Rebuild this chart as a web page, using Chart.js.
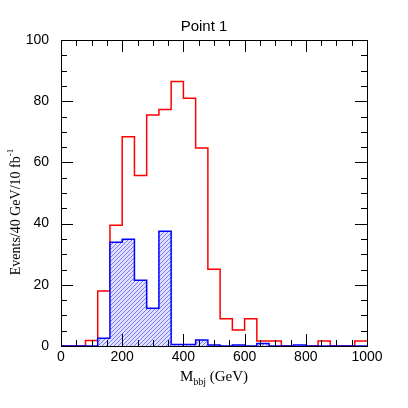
<!DOCTYPE html>
<html lang="en">
<head>
    <meta charset="UTF-8">
    <title>Point 1</title>
    <script src="https://cdn.jsdelivr.net/npm/chart.js"></script>
    <style>
        body { margin: 0; background: #ffffff; }
        .chart-container { width: 408px; height: 408px; position: relative; }
    </style>
</head>
<body>
    <div class="chart-container">
        <canvas id="chart"></canvas>
    </div>

    <script>
        // bin low edges (GeV), 40 GeV wide
        const binLow = [0, 40, 80, 120, 160, 200, 240, 280, 320, 360, 400, 440, 480,
                        520, 560, 600, 640, 680, 720, 760, 800, 840, 880, 920, 960];
        const binHighEnd = 1000;
        const redCounts = [0, 0, 1.8, 18.0, 39.5, 68.4, 55.7, 75.5, 77.3, 86.4, 81.0, 64.7, 25.1,
                           8.9, 5.2, 8.9, 1.6, 1.6, 0, 0, 0, 1.6, 0, 0, 1.6];
        const blueCounts = [0, 0, 0, 2.5, 33.9, 34.9, 21.5, 12.3, 37.5, 0.5, 0.5, 2.0, 0.3,
                            0, 0.3, 0, 0.8, 0, 0, 0.3, 0, 0, 0, 0, 0];
        const xTickLabels = [0, 200, 400, 600, 800, 1000];
        const yTickLabels = [0, 20, 40, 60, 80, 100];

        // one point per bin low edge, plus the closing edge; 'before' holds each value to the next edge
        function histPoints(counts) {
            const pts = binLow.map((x, i) => ({ x: x, y: counts[i] }));
            pts.push({ x: binHighEnd, y: counts[counts.length - 1] });
            return pts;
        }

        function makeHatch() {
            const c = document.createElement('canvas');
            c.width = 4; c.height = 4;
            const g = c.getContext('2d');
            g.fillStyle = 'rgba(225,225,255,1)';
            g.fillRect(0, 0, 4, 4);
            g.strokeStyle = 'rgba(80,80,255,0.7)';
            g.lineWidth = 1;
            g.beginPath();
            g.moveTo(0, 4); g.lineTo(4, 0);
            g.moveTo(-1, 1); g.lineTo(1, -1);
            g.moveTo(3, 5); g.lineTo(5, 3);
            g.stroke();
            return g.createPattern(c, 'repeat');
        }

        // inner ticks on all sides, frame, titles
        const decorations = {
            id: 'decorations',
            afterDraw(chart) {
                const ctx = chart.ctx;
                const a = chart.chartArea;
                const xs = chart.scales.x, ys = chart.scales.y;
                ctx.save();
                ctx.strokeStyle = '#000';
                ctx.lineWidth = 1;
                ctx.beginPath();
                for (let v = 0; v <= 1000; v += 50) {
                    const px = Math.round(xs.getPixelForValue(v)) + 0.5;
                    const len = v % 200 === 0 ? 12 : 6;
                    ctx.moveTo(px, a.bottom); ctx.lineTo(px, a.bottom - len);
                    ctx.moveTo(px, a.top); ctx.lineTo(px, a.top + len);
                }
                for (let v = 0; v <= 100; v += 5) {
                    const py = Math.round(ys.getPixelForValue(v)) + 0.5;
                    const len = v % 20 === 0 ? 12 : 6;
                    ctx.moveTo(a.left, py); ctx.lineTo(a.left + len, py);
                    ctx.moveTo(a.right, py); ctx.lineTo(a.right - len, py);
                }
                ctx.stroke();
                ctx.strokeRect(Math.round(a.left) + 0.5, Math.round(a.top) + 0.5,
                               Math.round(a.right - a.left), Math.round(a.bottom - a.top));

                // title
                ctx.fillStyle = '#000';
                ctx.font = '15px "Liberation Sans", Arial, sans-serif';
                ctx.textAlign = 'center';
                ctx.textBaseline = 'alphabetic';
                ctx.fillText('Point 1', 204, 31);

                // x title with subscript
                const cx = (a.left + a.right) / 2;
                const parts = [
                    { t: 'M', f: '15px "Liberation Serif", serif', dy: 0 },
                    { t: 'bbj', f: '10px "Liberation Serif", serif', dy: 4 },
                    { t: ' (GeV)', f: '15px "Liberation Serif", serif', dy: 0 }
                ];
                drawParts(ctx, parts, cx, 381);

                // y title with superscript
                ctx.save();
                ctx.translate(20, 212);
                ctx.rotate(-Math.PI / 2);
                const yparts = [
                    { t: 'Events/40 GeV/10 fb', f: '14px "Liberation Serif", serif', dy: 0 },
                    { t: '-1', f: '9px "Liberation Serif", serif', dy: -7 }
                ];
                drawParts(ctx, yparts, 0, 0);
                ctx.restore();
                ctx.restore();
            }
        };

        function drawParts(ctx, parts, cx, baseY) {
            let total = 0;
            parts.forEach(p => { ctx.font = p.f; p.w = ctx.measureText(p.t).width; total += p.w; });
            let x = cx - total / 2;
            ctx.textAlign = 'left';
            parts.forEach(p => {
                ctx.font = p.f;
                ctx.fillText(p.t, x, baseY + p.dy);
                x += p.w;
            });
        }

        const tickFont = { family: '"Liberation Sans", Arial, sans-serif', size: 14 };

        new Chart('chart', {
            type: 'line',
            data: {
                datasets: [
                    {
                        label: 'blue',
                        data: histPoints(blueCounts),
                        stepped: 'before',
                        borderColor: '#0000ff',
                        borderWidth: 1.5,
                        backgroundColor: makeHatch(),
                        fill: 'origin',
                        pointRadius: 0,
                        order: 1
                    },
                    {
                        label: 'red',
                        data: histPoints(redCounts),
                        stepped: 'before',
                        borderColor: '#ff0000',
                        borderWidth: 1.5,
                        fill: false,
                        pointRadius: 0,
                        order: 2
                    }
                ]
            },
            options: {
                responsive: true,
                maintainAspectRatio: false,
                animation: false,
                layout: { padding: { top: 40, right: 41, left: 0, bottom: 0 } },
                plugins: {
                    legend: { display: false },
                    tooltip: { enabled: false },
                    title: { display: false }
                },
                scales: {
                    x: {
                        type: 'linear',
                        min: 0,
                        max: 1000,
                        grid: { display: false, drawTicks: false },
                        border: { display: false },
                        afterFit: s => { s.height = 62; },
                        afterBuildTicks: s => { s.ticks = xTickLabels.map(v => ({ value: v })); },
                        ticks: { color: '#000', font: tickFont, padding: 3, maxRotation: 0,
                                 callback: v => String(v) }
                    },
                    y: {
                        min: 0,
                        max: 100,
                        grid: { display: false, drawTicks: false },
                        border: { display: false },
                        afterFit: s => { s.width = 61; },
                        afterBuildTicks: s => { s.ticks = yTickLabels.map(v => ({ value: v })); },
                        ticks: { color: '#000', font: tickFont, padding: 12 }
                    }
                }
            },
            plugins: [decorations]
        });
    </script>
</body>
</html>
